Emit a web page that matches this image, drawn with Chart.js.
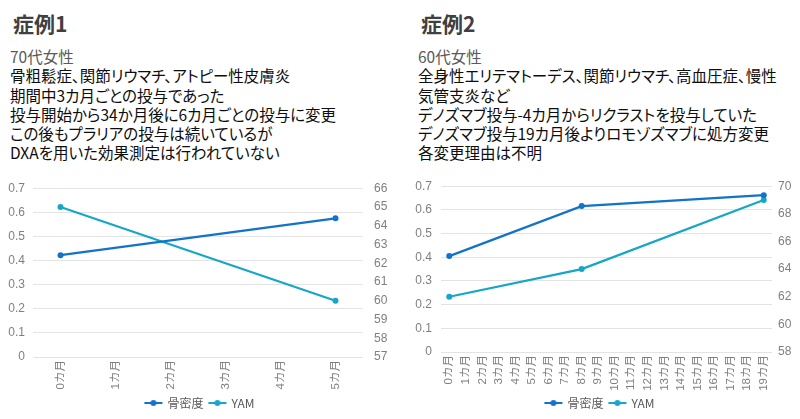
<!DOCTYPE html>
<html>
<head>
<meta charset="utf-8">
<script src="https://cdn.jsdelivr.net/npm/chart.js@4"></script>
<style>
  body { margin: 0; width: 800px; height: 419px; background: #fff; position: relative; overflow: hidden;
         font-family: "Noto Sans CJK JP", sans-serif; }
  .title { position: absolute; top: 9px; font-size: 21px; font-weight: bold; color: #404040; line-height: 28px; }
  .text { position: absolute; top: 47px; font-size: 15.5px; line-height: 19.3px; color: #0d0d0d; white-space: nowrap;
          font-feature-settings: "palt"; }
  .text .age { color: #595959; }
  .box { position: absolute; top: 170px; width: 400px; height: 249px; }
</style>
</head>
<body>
<div class="title" style="left:13px">症例1</div>
<div class="text" style="left:10px">
  <div class="age">70代女性</div>
  <div>骨粗鬆症、関節リウマチ、アトピー性皮膚炎</div>
  <div>期間中3カ月ごとの投与であった</div>
  <div>投与開始から34か月後に6カ月ごとの投与に変更</div>
  <div>この後もプラリアの投与は続いているが</div>
  <div>DXAを用いた効果測定は行われていない</div>
</div>
<div class="title" style="left:421px">症例2</div>
<div class="text" style="left:418px">
  <div class="age">60代女性</div>
  <div>全身性エリテマトーデス、関節リウマチ、高血圧症、慢性</div>
  <div>気管支炎など</div>
  <div>デノズマブ投与-4カ月からリクラストを投与していた</div>
  <div>デノズマブ投与19カ月後よりロモゾズマブに処方変更</div>
  <div>各変更理由は不明</div>
</div>
<div class="box" style="left:0"><canvas id="c1"></canvas></div>
<div class="box" style="left:400px"><canvas id="c2"></canvas></div>
<script>
// 症例1
const months1 = ['0カ月', '1カ月', '2カ月', '3カ月', '4カ月', '5カ月'];
const bmd1 = [0.422, null, null, null, null, 0.575];
const yam1 = [65, null, null, null, null, 60];

// 症例2
const months2 = ['0カ月', '1カ月', '2カ月', '3カ月', '4カ月', '5カ月', '6カ月', '7カ月', '8カ月', '9カ月',
                 '10カ月', '11カ月', '12カ月', '13カ月', '14カ月', '15カ月', '16カ月', '17カ月', '18カ月', '19カ月'];
const bmd2 = [0.405, null, null, null, null, null, null, null, 0.616, null,
              null, null, null, null, null, null, null, null, null, 0.662];
const yam2 = [62, null, null, null, null, null, null, null, 64, null,
              null, null, null, null, null, null, null, null, null, 69];

const seriesNames = ['骨密度', 'YAM'];
const colors = ['#1273C8', '#16A6C8'];

const tickFont = { family: '"Liberation Sans", "Noto Sans CJK JP", sans-serif', size: 12 };
const xFont = { family: '"Liberation Sans", "Noto Sans CJK JP", sans-serif', size: 11.5 };
const gray = '#7f7f7f';

// 凡例アイコン: 線の真ん中に点
function legendIcon(color) {
    const c = document.createElement('canvas');
    c.width = 26; c.height = 8;
    const g = c.getContext('2d');
    g.strokeStyle = color; g.lineWidth = 2;
    g.beginPath(); g.moveTo(4, 4); g.lineTo(22, 4); g.stroke();
    g.fillStyle = color;
    g.beginPath(); g.arc(13, 4, 3, 0, Math.PI * 2); g.fill();
    return c;
}
const icons = colors.map(legendIcon);

function makeChart(id, labels, bmd, yam, yamMin, yamMax, yamStep, dims) {
    const ds = (i, data, axis) => ({
        label: seriesNames[i],
        data: data,
        yAxisID: axis,
        borderColor: colors[i],
        backgroundColor: colors[i],
        borderWidth: 2.25,
        pointRadius: 3,
        pointBorderWidth: 0,
        spanGaps: true,
        tension: 0
    });
    return new Chart(document.getElementById(id), {
        type: 'line',
        data: { labels: labels, datasets: [ds(0, bmd, 'y'), ds(1, yam, 'y1')] },
        options: {
            responsive: true,
            maintainAspectRatio: false,
            animation: false,
            layout: { padding: { top: 14, left: 0, right: 0, bottom: 0 } },
            plugins: {
                tooltip: { enabled: false },
                legend: {
                    position: 'bottom',
                    labels: {
                        usePointStyle: true,
                        pointStyleWidth: 16,
                        boxHeight: 8,
                        padding: 6,
                        color: '#595959',
                        font: { family: '"Noto Sans CJK JP", sans-serif', size: 12 },
                        generateLabels: (chart) => {
                            const items = Chart.defaults.plugins.legend.labels.generateLabels(chart);
                            items.forEach((it, i) => { it.pointStyle = icons[i]; });
                            return items;
                        }
                    }
                }
            },
            scales: {
                x: {
                    offset: true,
                    grid: { display: false, drawTicks: false },
                    border: { display: false },
                    ticks: { color: gray, font: xFont, minRotation: 90, maxRotation: 90, autoSkip: false, padding: dims.xp },
                    afterFit: (s) => { s.height = dims.xh; }
                },
                y: {
                    position: 'left',
                    min: 0, max: 0.7,
                    ticks: { stepSize: 0.1, color: gray, font: tickFont, padding: dims.lp },
                    grid: { color: '#e3e3e3', drawTicks: false },
                    border: { display: false },
                    afterFit: (s) => { s.width = dims.lw; }
                },
                y1: {
                    position: 'right',
                    min: yamMin, max: yamMax,
                    ticks: { stepSize: yamStep, color: gray, font: tickFont, padding: dims.rp },
                    grid: { display: false, drawTicks: false },
                    border: { display: false },
                    afterFit: (s) => { s.width = dims.rw; }
                }
            }
        }
    });
}

makeChart('c1', months1, bmd1, yam1, 57, 66, 1, { lw: 33, lp: 8, rw: 37, rp: 11, xh: 34, xp: 3 });
makeChart('c2', months2, bmd2, yam2, 58, 70, 2, { lw: 41, lp: 9, rw: 28, rp: 6, xh: 39, xp: 3 });
</script>
</body>
</html>
